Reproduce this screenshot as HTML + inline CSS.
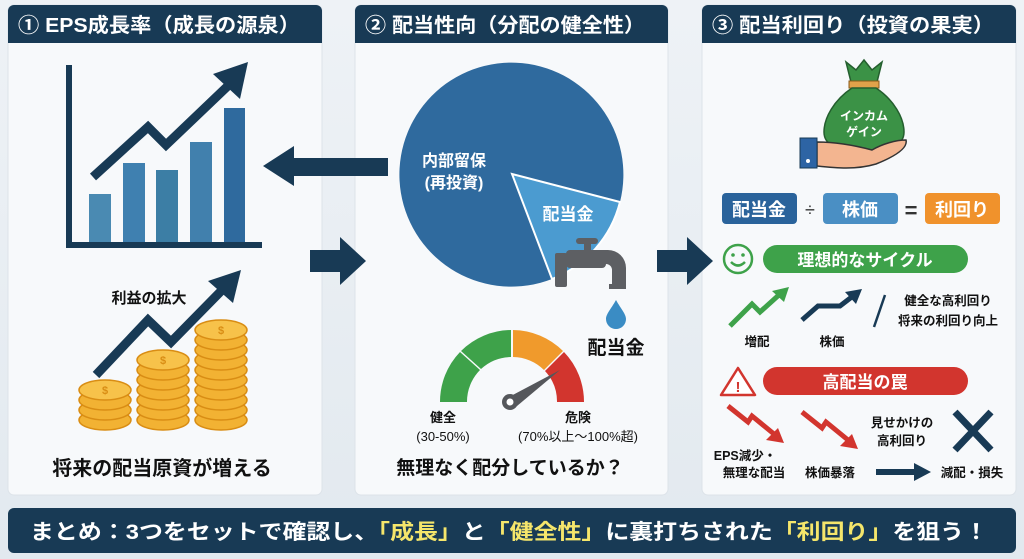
<!DOCTYPE html>
<html><head><meta charset="utf-8"><style>
html,body{margin:0;padding:0;background:#e8eef3;}
svg{display:block;font-family:"Liberation Sans","Noto Sans CJK JP",sans-serif;}
</style></head><body>
<svg width="1024" height="559" viewBox="0 0 1024 559" xmlns="http://www.w3.org/2000/svg">
<defs>
<linearGradient id="bg" x1="0" y1="0" x2="0" y2="1"><stop offset="0" stop-color="#eef2f6"/><stop offset="1" stop-color="#e2e9ef"/></linearGradient>
</defs>
<rect width="1024" height="559" fill="url(#bg)"/>
<!-- panels -->
<g>
<rect x="8" y="5" width="314" height="490" rx="6" fill="#f7f9fb" stroke="#dde3e9"/>
<rect x="355" y="5" width="313" height="490" rx="6" fill="#f7f9fb" stroke="#dde3e9"/>
<rect x="702" y="5" width="314" height="490" rx="6" fill="#f7f9fb" stroke="#dde3e9"/>
<path d="M8 11a6 6 0 0 1 6-6h302a6 6 0 0 1 6 6v32H8z" fill="#183a55"/>
<path d="M355 11a6 6 0 0 1 6-6h301a6 6 0 0 1 6 6v32H355z" fill="#183a55"/>
<path d="M702 11a6 6 0 0 1 6-6h302a6 6 0 0 1 6 6v32H702z" fill="#183a55"/>
<text x="18" y="32" font-size="20" font-weight="bold" fill="#fff" textLength="282" lengthAdjust="spacingAndGlyphs">① EPS成長率（成長の源泉）</text>
<text x="365" y="32" font-size="20" font-weight="bold" fill="#fff" textLength="280" lengthAdjust="spacingAndGlyphs">② 配当性向（分配の健全性）</text>
<text x="712" y="32" font-size="20" font-weight="bold" fill="#fff" textLength="282" lengthAdjust="spacingAndGlyphs">③ 配当利回り（投資の果実）</text>
</g>
<!-- panel 1 chart -->
<rect x="66" y="65" width="6" height="183" fill="#183a55"/>
<rect x="66" y="242" width="196" height="6" fill="#183a55"/>
<rect x="89" y="194" width="22" height="48" fill="#4a8ab2"/>
<rect x="123" y="163" width="22" height="79" fill="#3f80b0"/>
<rect x="156" y="170" width="22" height="72" fill="#3c7ea5"/>
<rect x="190" y="142" width="22" height="100" fill="#4180ad"/>
<rect x="224" y="108" width="21" height="134" fill="#2f6a9e"/>
<polyline points="93,177 148,127 166,145 232,82" fill="none" stroke="#183a55" stroke-width="9"/>
<polygon points="248,62 240,99 213,74" fill="#183a55"/>
<!-- arrows between panels -->
<rect x="292" y="158" width="96" height="18" fill="#183a55"/>
<polygon points="263,166 294,146 294,186" fill="#183a55"/>
<rect x="310" y="250" width="32" height="22" fill="#183a55"/>
<polygon points="366,261 340,237 340,285" fill="#183a55"/>
<rect x="657" y="250" width="32" height="22" fill="#183a55"/>
<polygon points="713,261 687,237 687,285" fill="#183a55"/>
<!-- coins arrow -->
<text x="149" y="303" font-size="15" font-weight="bold" fill="#111" text-anchor="middle">利益の拡大</text>
<polyline points="96,375 148,320 171,342 228,284" fill="none" stroke="#183a55" stroke-width="9"/>
<polygon points="241,270 233,303 208,281" fill="#183a55"/>
<!-- coins -->
<g fill="#f2b233" stroke="#d98d14" stroke-width="1.5">
<ellipse cx="105" cy="420" rx="26" ry="10"/><ellipse cx="105" cy="410" rx="26" ry="10"/><ellipse cx="105" cy="400" rx="26" ry="10"/><ellipse cx="105" cy="390" rx="26" ry="10" fill="#f7c24a"/>
<ellipse cx="163" cy="420" rx="26" ry="10"/><ellipse cx="163" cy="410" rx="26" ry="10"/><ellipse cx="163" cy="400" rx="26" ry="10"/><ellipse cx="163" cy="390" rx="26" ry="10"/><ellipse cx="163" cy="380" rx="26" ry="10"/><ellipse cx="163" cy="370" rx="26" ry="10"/><ellipse cx="163" cy="360" rx="26" ry="10" fill="#f7c24a"/>
<ellipse cx="221" cy="420" rx="26" ry="10"/><ellipse cx="221" cy="410" rx="26" ry="10"/><ellipse cx="221" cy="400" rx="26" ry="10"/><ellipse cx="221" cy="390" rx="26" ry="10"/><ellipse cx="221" cy="380" rx="26" ry="10"/><ellipse cx="221" cy="370" rx="26" ry="10"/><ellipse cx="221" cy="360" rx="26" ry="10"/><ellipse cx="221" cy="350" rx="26" ry="10"/><ellipse cx="221" cy="340" rx="26" ry="10"/><ellipse cx="221" cy="330" rx="26" ry="10" fill="#f7c24a"/>
</g>
<g font-size="11" font-weight="bold" fill="#d98d14" text-anchor="middle"><text x="105" y="394">$</text><text x="163" y="364">$</text><text x="221" y="334">$</text></g>
<text x="162" y="475" font-size="20" font-weight="bold" fill="#111" text-anchor="middle">将来の配当原資が増える</text>
<!-- pie -->
<path d="M512 174 L620 202 A112 112 0 1 0 552 279 Z" fill="#2f6a9e"/>
<path d="M512 174 L620 202 A112 112 0 0 1 552 279 Z" fill="#4b9bd0" stroke="#fff" stroke-width="2"/>
<text x="454" y="166" font-size="16" font-weight="bold" fill="#fff" text-anchor="middle">内部留保</text>
<text x="454" y="188" font-size="16" font-weight="bold" fill="#fff" text-anchor="middle">(再投資)</text>
<text x="568" y="220" font-size="17" font-weight="bold" fill="#fff" text-anchor="middle">配当金</text>
<!-- faucet -->
<g fill="#5d5f63">
<rect x="576" y="238" width="22" height="6" rx="3"/><rect x="584" y="242" width="7" height="10"/>
<rect x="566" y="250" width="40" height="18" rx="4"/>
<rect x="555" y="253" width="12" height="34" rx="2"/>
<path d="M600 250 h8 a18 18 0 0 1 18 18 v16 h-14 v-14 a6 6 0 0 0 -6 -6 h-6z"/>
<rect x="609" y="284" width="17" height="5"/>
</g>
<path d="M616 300 C611 309 606 314 606 319 a10 10 0 0 0 20 0 C626 314 621 309 616 300z" fill="#3a8cc4"/>
<text x="616" y="354" font-size="19" font-weight="bold" fill="#111" text-anchor="middle">配当金</text>
<!-- gauge -->
<path d="M440 402 A72 72 0 0 1 460 352 L480 370 A45 45 0 0 0 467 402 Z" fill="#3ea24a"/>
<path d="M461 351 A72 72 0 0 1 511 330 L511 357 A45 45 0 0 0 481 369 Z" fill="#3ea24a"/>
<path d="M513 330 A72 72 0 0 1 563 351 L544 370 A45 45 0 0 0 513 357 Z" fill="#f09a2c"/>
<path d="M564 352 A72 72 0 0 1 584 402 L557 402 A45 45 0 0 0 545 371 Z" fill="#d2352e"/>
<polygon points="507,398 517,406 560,370" fill="#55575b"/>
<circle cx="510" cy="402" r="8" fill="#55575b"/><circle cx="510" cy="402" r="3.5" fill="#fff"/>
<g font-size="13" fill="#111" text-anchor="middle" font-weight="bold">
<text x="443" y="422">健全</text><text x="443" y="441" font-weight="normal">(30-50%)</text>
<text x="578" y="422">危険</text><text x="578" y="441" font-weight="normal">(70%以上〜100%超)</text>
</g>
<text x="510" y="474" font-size="19" font-weight="bold" fill="#111" text-anchor="middle">無理なく配分しているか？</text>
<!-- money bag -->
<path d="M846 62 l10 8 8 -10 8 10 10 -8 -5 20 h-26z" fill="#3b9246" stroke="#245e2e" stroke-width="1.5"/>
<rect x="849" y="81" width="30" height="7" fill="#e0a24a" stroke="#8a5a1a"/>
<path d="M852 88 h24 c18 12 28 30 28 44 c0 14 -14 18 -40 18 c-26 0 -40 -4 -40 -18 c0 -14 10 -32 28 -44z" fill="#3b9246" stroke="#245e2e" stroke-width="1.5"/>
<text x="864" y="120" font-size="12" font-weight="bold" fill="#fff" text-anchor="middle">インカム</text>
<text x="864" y="136" font-size="12" font-weight="bold" fill="#fff" text-anchor="middle">ゲイン</text>
<path d="M817 142 c20 0 40 4 55 8 c10 -6 24 -10 34 -10 c2 8 -10 16 -30 24 c-20 6 -40 4 -59 2z" fill="#f3b590" stroke="#333" stroke-width="1.5"/>
<rect x="800" y="138" width="17" height="30" fill="#2d64a4" stroke="#183a55"/>
<circle cx="808" cy="161" r="2" fill="#fff"/>
<!-- formula -->
<rect x="722" y="193" width="75" height="31" rx="4" fill="#2a639b"/>
<text x="759" y="216" font-size="18" font-weight="bold" fill="#fff" text-anchor="middle">配当金</text>
<text x="810" y="216" font-size="18" fill="#333" text-anchor="middle">÷</text>
<rect x="823" y="193" width="75" height="31" rx="4" fill="#4a8fc4"/>
<text x="860" y="216" font-size="18" font-weight="bold" fill="#fff" text-anchor="middle">株価</text>
<text x="911" y="218" font-size="22" font-weight="bold" fill="#333" text-anchor="middle">=</text>
<rect x="925" y="193" width="75" height="31" rx="4" fill="#f0922c"/>
<text x="962" y="216" font-size="18" font-weight="bold" fill="#fff" text-anchor="middle">利回り</text>
<!-- ideal -->
<circle cx="738" cy="259" r="14" fill="none" stroke="#3ea24a" stroke-width="2.5"/>
<circle cx="733" cy="255" r="1.8" fill="#3ea24a"/><circle cx="743" cy="255" r="1.8" fill="#3ea24a"/>
<path d="M731 262 q7 7 14 0" fill="none" stroke="#3ea24a" stroke-width="2.5"/>
<rect x="763" y="245" width="205" height="28" rx="14" fill="#3ea24a"/>
<text x="865" y="266" font-size="17" font-weight="bold" fill="#fff" text-anchor="middle">理想的なサイクル</text>
<polyline points="730,326 752,304 760,312 780,294" fill="none" stroke="#3ea24a" stroke-width="5"/>
<polygon points="789,287 772,291 784,302" fill="#3ea24a"/>
<polyline points="802,320 818,306 840,306 853,296" fill="none" stroke="#183a55" stroke-width="5"/>
<polygon points="862,289 845,292 856,304" fill="#183a55"/>
<line x1="885" y1="295" x2="874" y2="327" stroke="#183a55" stroke-width="2.5"/>
<text x="948" y="305" font-size="12.5" font-weight="bold" fill="#111" text-anchor="middle">健全な高利回り</text>
<text x="948" y="325" font-size="12.5" font-weight="bold" fill="#111" text-anchor="middle">将来の利回り向上</text>
<text x="757" y="346" font-size="12.5" font-weight="bold" fill="#111" text-anchor="middle">増配</text>
<text x="832" y="346" font-size="12.5" font-weight="bold" fill="#111" text-anchor="middle">株価</text>
<!-- trap -->
<path d="M738 368 L755 395 H721 Z" fill="#fff" stroke="#d2352e" stroke-width="2.5" stroke-linejoin="round"/>
<text x="738" y="392" font-size="15" font-weight="bold" fill="#d2352e" text-anchor="middle">!</text>
<rect x="763" y="367" width="205" height="28" rx="14" fill="#d2352e"/>
<text x="865" y="388" font-size="17" font-weight="bold" fill="#fff" text-anchor="middle">高配当の罠</text>
<polyline points="728,406 748,422 752,416 774,434" fill="none" stroke="#d2352e" stroke-width="5"/>
<polygon points="784,443 766,440 778,428" fill="#d2352e"/>
<polyline points="802,412 822,428 826,422 848,440" fill="none" stroke="#d2352e" stroke-width="5"/>
<polygon points="858,449 840,446 852,434" fill="#d2352e"/>
<text x="745" y="460" font-size="12.5" font-weight="bold" fill="#111" text-anchor="middle">EPS減少・</text>
<text x="754" y="477" font-size="12.5" font-weight="bold" fill="#111" text-anchor="middle">無理な配当</text>
<text x="830" y="477" font-size="12.5" font-weight="bold" fill="#111" text-anchor="middle">株価暴落</text>
<text x="902" y="427" font-size="12.5" font-weight="bold" fill="#111" text-anchor="middle">見せかけの</text>
<text x="902" y="445" font-size="12.5" font-weight="bold" fill="#111" text-anchor="middle">高利回り</text>
<path d="M955 412 L991 450 M991 412 L955 450" stroke="#183a55" stroke-width="7"/>
<rect x="876" y="469" width="40" height="6" fill="#183a55"/>
<polygon points="931,472 914,463 914,481" fill="#183a55"/>
<text x="972" y="477" font-size="12.5" font-weight="bold" fill="#111" text-anchor="middle">減配・損失</text>
<!-- banner -->
<rect x="8" y="508" width="1008" height="45" rx="6" fill="#183a55"/>
<text x="30" y="539" font-size="21" font-weight="bold" fill="#fff" textLength="958" lengthAdjust="spacingAndGlyphs">まとめ：3つをセットで確認し、<tspan fill="#f5e66b">「成長」</tspan>と<tspan fill="#f5e66b">「健全性」</tspan>に裏打ちされた<tspan fill="#f5e66b">「利回り」</tspan>を狙う！</text>
</svg>
</body></html>
